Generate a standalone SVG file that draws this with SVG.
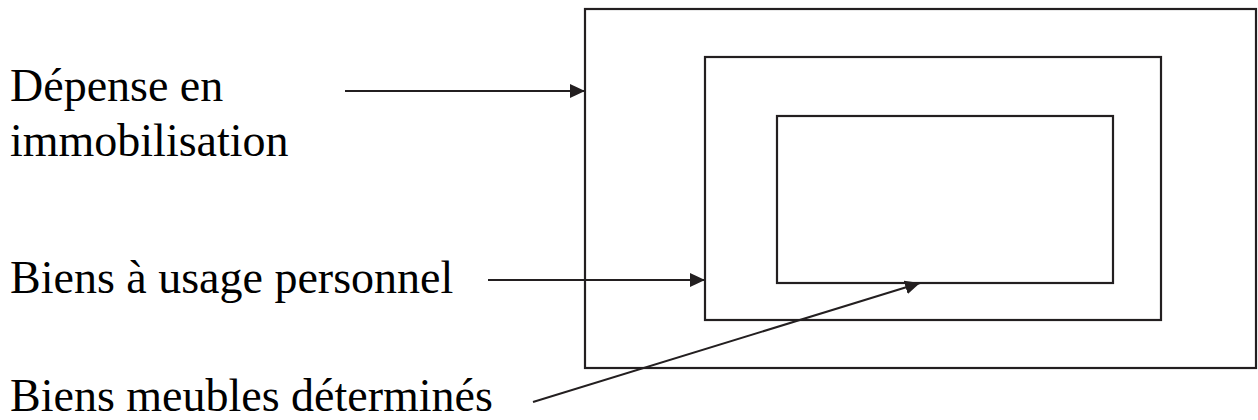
<svg xmlns="http://www.w3.org/2000/svg" width="1258" height="420" viewBox="0 0 1258 420">
  <style>
    .box { fill: none; stroke: #231f20; stroke-width: 2.2; }
    .conn { stroke: #231f20; stroke-width: 2; fill: none; marker-end: url(#head); }
    .lbl { font-family: "Liberation Serif", "Times New Roman", serif; font-size: 46px; fill: #000; }
  </style>
  <defs>
    <marker id="head" viewBox="0 0 15 14" refX="15" refY="7" markerWidth="15" markerHeight="14" markerUnits="userSpaceOnUse" orient="auto">
      <path d="M0,0 L15,7 L0,14 Z" fill="#231f20"/>
    </marker>
  </defs>
  <rect width="1258" height="420" fill="#fff"/>

  <!-- nested boxes -->
  <g id="immobilisation">
    <rect class="box" x="585" y="9" width="671" height="359"/>
  </g>
  <g id="usage-personnel">
    <rect class="box" x="705" y="57" width="456" height="263"/>
  </g>
  <g id="meubles-determines">
    <rect class="box" x="777" y="116" width="336" height="167"/>
  </g>

  <!-- labels -->
  <g id="label-depense">
    <text class="lbl" x="10" y="101">Dépense en</text>
    <text class="lbl" x="10" y="156">immobilisation</text>
  </g>
  <g id="label-usage">
    <text class="lbl" x="10" y="293">Biens à usage personnel</text>
  </g>
  <g id="label-meubles">
    <text class="lbl" x="10" y="411">Biens meubles déterminés</text>
  </g>

  <!-- arrows from labels to boxes -->
  <g id="connectors">
    <line class="conn" x1="345" y1="91" x2="585" y2="91"/>
    <line class="conn" x1="488" y1="280" x2="705" y2="280"/>
    <line class="conn" x1="533" y1="402" x2="920" y2="283"/>
  </g>
</svg>
